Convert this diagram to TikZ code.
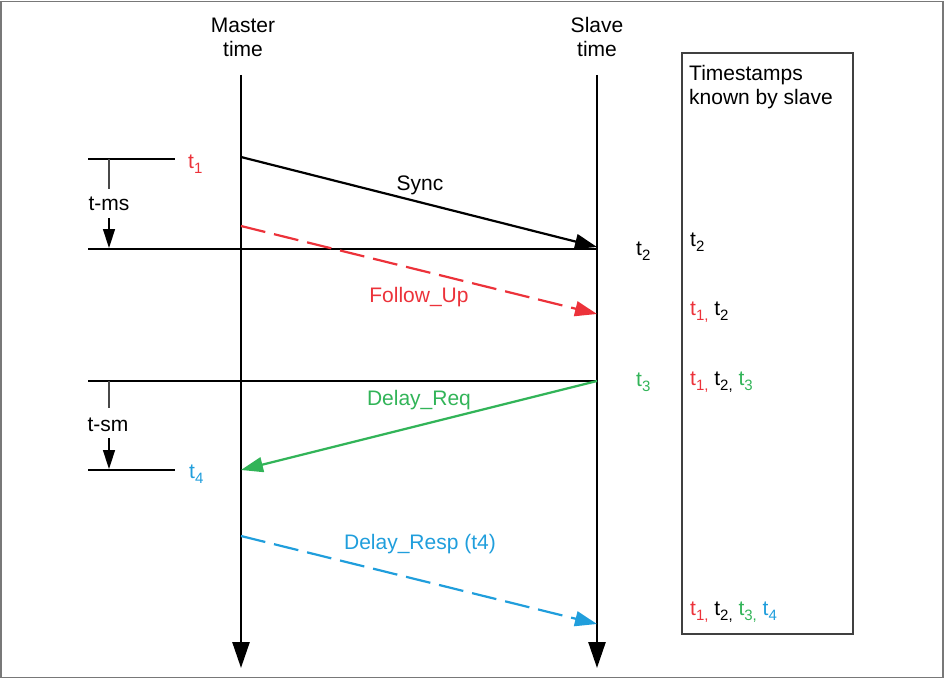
\documentclass[tikz,border=0pt]{standalone}
\usepackage{fontspec}
\setmainfont{Liberation Sans}
\usetikzlibrary{arrows.meta}
\definecolor{cred}{RGB}{236,50,58}
\definecolor{cgreen}{RGB}{50,180,88}
\definecolor{cblue}{RGB}{32,158,220}
\definecolor{cframe}{RGB}{120,120,120}
\newcommand\sbs[1]{\raisebox{-5.5pt}{\fontsize{15}{15}\selectfont #1}}
\tikzset{
  lbl/.style={font=\fontsize{21}{24}\selectfont, inner sep=0pt, anchor=base},
  lbll/.style={lbl, anchor=base west},
  timeline/.style={line width=2.6pt, -{Triangle[length=26pt,width=17pt]}},
  msg/.style={line width=2.2pt, -{Triangle[length=22pt,width=15pt]}},
  dsh/.style={dash pattern=on 25pt off 9pt},
  thin/.style={line width=1.3pt},
  tick/.style={line width=1.3pt, cframe!60!black},
  smallarr/.style={line width=1.5pt, -{Triangle[length=19pt,width=12pt]}}
}
\begin{document}
\begin{tikzpicture}[x=1pt,y=-1pt]
\useasboundingbox (0,0) rectangle (944,679);
\draw[cframe, line width=1.5pt] (1,1.5) rectangle (943,677.5);
% headers
\node[lbl, align=center] (mhead) at (243,57) {Master\\time};
\node[lbl, align=center] (shead) at (597,57) {Slave\\time};
% timelines
\coordinate (mtop) at (241,75);
\coordinate (mbot) at (241,668);
\coordinate (stop) at (597,75);
\coordinate (sbot) at (597,668);
\draw[timeline] (mtop) -- (mbot);
\draw[timeline] (stop) -- (sbot);
% t-ms reference lines
\coordinate (h1a) at (88,159);
\coordinate (h1b) at (175,159);
\coordinate (h2a) at (88,249);
\coordinate (h2b) at (597,249);
\draw[thin] (h1a) -- (h1b);
\draw[thin] (h2a) -- (h2b);
\coordinate (v1a) at (109,159);
\coordinate (v1b) at (109,189);
\draw[tick] (v1a) -- (v1b);
\node[lbl] (tms) at (109,210) {t-ms};
\coordinate (a1a) at (109,218);
\coordinate (a1b) at (109,248);
\draw[smallarr] (a1a) -- (a1b);
% t-sm reference lines
\coordinate (h3a) at (88,381);
\coordinate (h3b) at (597,381);
\coordinate (h4a) at (88,470);
\coordinate (h4b) at (175,470);
\draw[thin] (h3a) -- (h3b);
\draw[thin] (h4a) -- (h4b);
\coordinate (v2a) at (109,381);
\coordinate (v2b) at (109,408);
\draw[tick] (v2a) -- (v2b);
\node[lbl] (tsm) at (108,431) {t-sm};
\coordinate (a2a) at (109,438);
\coordinate (a2b) at (109,469);
\draw[smallarr] (a2a) -- (a2b);
% timestamps near timelines
\node[lbll, text=cred] (t1) at (188,168) {t\sbs{1}};
\node[lbll] (t2) at (636,255) {t\sbs{2}};
\node[lbll, text=cgreen] (t3) at (636,386) {t\sbs{3}};
\node[lbll, text=cblue] (t4) at (189,478) {t\sbs{4}};
% messages
\coordinate (syncA) at (241,157);
\coordinate (syncB) at (597,247);
\draw[msg] (syncA) -- (syncB);
\node[lbl] (synclbl) at (420,190) {Sync};
\coordinate (fuA) at (241,226);
\coordinate (fuB) at (597,314);
\draw[msg, cred, dsh] (fuA) -- (fuB);
\node[lbl, text=cred] (fulbl) at (419,302) {Follow\_Up};
\coordinate (drA) at (597,381);
\coordinate (drB) at (241,470);
\draw[msg, cgreen] (drA) -- (drB);
\node[lbl, text=cgreen] (drlbl) at (419,405) {Delay\_Req};
\coordinate (dpA) at (241,536);
\coordinate (dpB) at (597,624);
\draw[msg, cblue, dsh] (dpA) -- (dpB);
\node[lbl, text=cblue] (dplbl) at (420,549) {Delay\_Resp (t4)};
% right box
\draw[line width=1.4pt, black!75] (682,53) rectangle (853,634);
\node[lbll, align=left] (boxhead) at (689,105) {Timestamps\\known by slave};
\node[lbll] (k1) at (690,246) {t\sbs{2}};
\node[lbll] (k2) at (690,315) {\textcolor{cred}{t\sbs{1,}} t\sbs{2}};
\node[lbll] (k3) at (690,385) {\textcolor{cred}{t\sbs{1,}} t\sbs{2,} \textcolor{cgreen}{t\sbs{3}}};
\node[lbll] (k4) at (690,615) {\textcolor{cred}{t\sbs{1,}} t\sbs{2,} \textcolor{cgreen}{t\sbs{3,}} \textcolor{cblue}{t\sbs{4}}};
\end{tikzpicture}
\end{document}
